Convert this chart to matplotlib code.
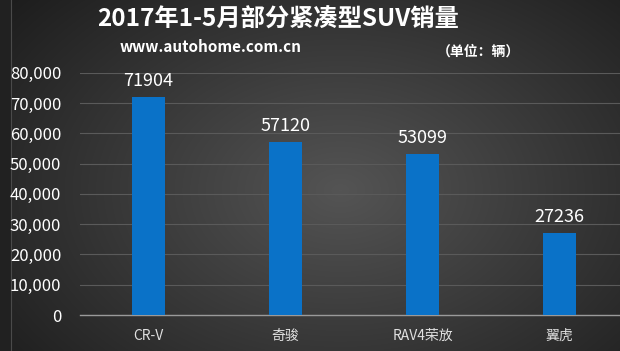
import numpy as np
import matplotlib
matplotlib.use("Agg")
import matplotlib.pyplot as plt

plt.rcParams['font.family'] = ['Noto Sans CJK SC', 'DejaVu Sans']

categories = ["CR-V", "奇骏", "RAV4荣放", "翼虎"]
sales = [71904, 57120, 53099, 27236]
yticks = [0, 10000, 20000, 30000, 40000, 50000, 60000, 70000, 80000]
ytick_labels = ["0", "10,000", "20,000", "30,000", "40,000", "50,000", "60,000", "70,000", "80,000"]
title = "2017年1-5月部分紧凑型SUV销量"
source = "www.autohome.com.cn"
unit = "（单位：辆）"

W, H = 620, 351
fig = plt.figure(figsize=(W / 100, H / 100), dpi=100)

# background radial gradient
bg = fig.add_axes([0, 0, 1, 1])
yy, xx = np.mgrid[0:H, 0:W]
cx, cy = 340, 190
r = np.sqrt(((xx - cx) / 380.0) ** 2 + ((yy - cy) / 260.0) ** 2)
v = np.clip(0.33 - 0.19 * r, 0.11, 0.33)
img = np.dstack([v, v, v])
img[:, :11] = 0.13
bg.imshow(img, extent=[0, W, H, 0], aspect='auto', interpolation='bilinear')
bg.plot([11, 11], [0, H], color='#4a4a4a', lw=0.8)
bg.set_xlim(0, W)
bg.set_ylim(H, 0)
bg.axis('off')

# plot axes: x from 80 to 628 px, y 0 at 315, 80000 at 72.7
x0, x1 = 80, 628
y_top, y_zero = 72.7, 315
ax = fig.add_axes([x0 / W, (H - y_zero) / H, (x1 - x0) / W, (y_zero - y_top) / H])
ax.patch.set_alpha(0)
ax.set_xlim(-0.5, 3.5)
ax.set_ylim(0, 80000)
ax.set_yticks(yticks)
ax.set_yticklabels(ytick_labels)
ax.grid(axis='y', color='#5a5a5a', lw=0.8)
ax.set_axisbelow(True)
for s in ['top', 'right', 'left']:
    ax.spines[s].set_visible(False)
ax.spines['bottom'].set_color('#9a9a9a')
ax.spines['bottom'].set_linewidth(1.0)
ax.tick_params(axis='y', length=0, pad=13.5, labelsize=12, labelcolor='white')
ax.tick_params(axis='x', length=0, pad=10, labelsize=10, labelcolor='#e0e0e0')

xs = np.arange(len(categories))
bars = ax.bar(xs, sales, width=0.245, color='#0a72c8', zorder=3)
ax.set_xticks(xs)
ax.set_xticklabels(categories)
for b, val in zip(bars, sales):
    ax.annotate(str(val), (b.get_x() + b.get_width() / 2, val), xytext=(0, 5),
                textcoords='offset points', ha='center', va='bottom',
                color='white', fontsize=13)

fig.text(97 / W, 1 - 20 / H, title, color='white', fontsize=17.5, fontweight='bold',
         ha='left', va='center')
fig.text(120 / W, 1 - 47 / H, source, color='white', fontsize=11, fontweight='bold',
         ha='left', va='center')
fig.text(437 / W, 1 - 52 / H, unit, color='white', fontsize=10, fontweight='bold',
         ha='left', va='center')

fig.savefig("out.png", dpi=100)
